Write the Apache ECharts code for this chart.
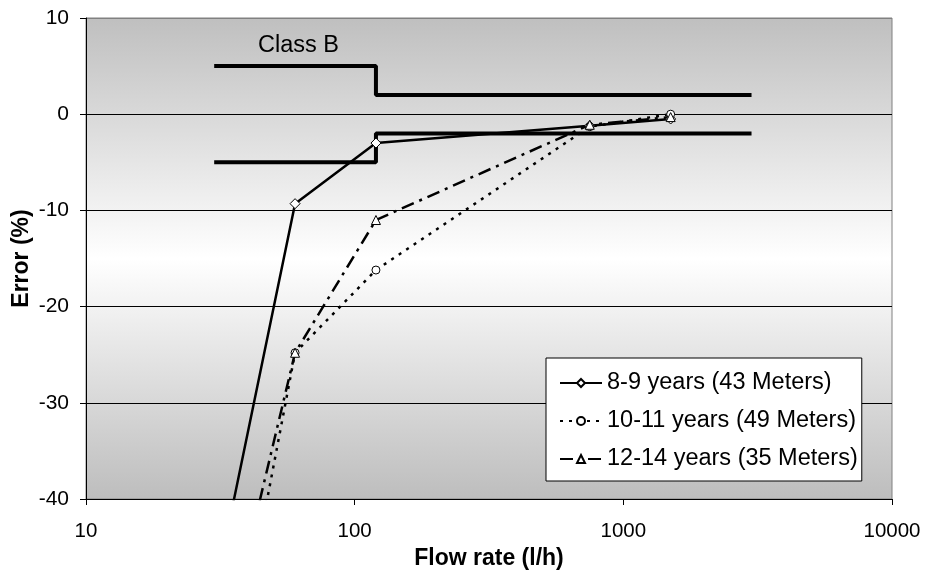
<!DOCTYPE html>
<html>
<head>
<meta charset="utf-8">
<script src="https://cdn.jsdelivr.net/npm/echarts@6/dist/echarts.min.js"></script>
<style>html,body{margin:0;padding:0;background:#fff}#c{width:926px;height:573px}</style>
</head>
<body>
<div id="c"></div>
<script>
// Flow rates (l/h)
var flowRates = [30, 60, 120, 750, 1500];
// Errors (%)
var err89 = [-50, -9.3, -3.0, -1.2, -0.5];
var err1011 = [-69, -24.8, -16.2, -1.3, 0.0];
var err1214 = [-60, -24.8, -11.0, -1.1, -0.3];
var seriesNames = ['8-9 years (43 Meters)', '10-11 years (49 Meters)', '12-14 years (35 Meters)'];
// Class B limits
var limitX = [30, 120, 120, 3000];
var limitUpper = [5, 5, 2, 2];
var limitLower = [-5, -5, -2, -2];
var xTicks = ['10', '100', '1000', '10000'];

function pairs(xs, ys) { return xs.map(function (x, i) { return [x, ys[i]]; }); }

var FONT = 'Liberation Sans, Arial, sans-serif';
var chart = echarts.init(document.getElementById('c'));
chart.setOption({
  animation: false,
  backgroundColor: '#fff',
  textStyle: { fontFamily: FONT },
  title: {
    text: 'Class B', left: 253, top: 29,
    textStyle: { fontFamily: FONT, fontSize: 23.5, fontWeight: 'normal', color: '#000' }
  },
  grid: {
    left: 86, right: 34, top: 18, bottom: 74, show: true,
    containLabel: false, outerBoundsMode: 'none',
    borderColor: '#808080', borderWidth: 1,
    backgroundColor: {
      type: 'linear', x: 0, y: 0, x2: 0, y2: 1,
      colorStops: [
        { offset: 0, color: '#bfbfbf' },
        { offset: 0.5, color: '#ffffff' },
        { offset: 1, color: '#bdbdbd' }
      ]
    }
  },
  legend: {
    data: seriesNames,
    orient: 'vertical', left: 546, top: 358,
    backgroundColor: '#fff', borderColor: '#000', borderWidth: 1,
    padding: [12, 4, 9, 13],
    itemWidth: 42, itemHeight: 10, itemGap: 12,
    textStyle: { fontFamily: FONT, fontSize: 23.5, color: '#000', lineHeight: 26 }
  },
  xAxis: {
    type: 'log', logBase: 10, min: 10, max: 10000,
    name: 'Flow rate (l/h)', nameLocation: 'middle', nameGap: 48,
    nameMoveOverlap: false,
    nameTextStyle: { fontFamily: FONT, fontSize: 23, fontWeight: 'bold', color: '#000' },
    axisLine: { onZero: false, lineStyle: { color: '#000', width: 1 } },
    axisTick: { show: true, length: 6, lineStyle: { color: '#000' } },
    minorTick: { show: false },
    splitLine: { show: false },
    axisLabel: {
      fontFamily: FONT, fontSize: 20.5, color: '#000', margin: 22,
      formatter: function (v) { var s = String(Math.round(v)); return xTicks.indexOf(s) >= 0 ? s : ''; }
    }
  },
  yAxis: {
    type: 'value', min: -40, max: 10, interval: 10,
    name: 'Error (%)', nameLocation: 'middle', nameGap: 53,
    nameMoveOverlap: false,
    nameTextStyle: { fontFamily: FONT, fontSize: 23, fontWeight: 'bold', color: '#000' },
    axisLine: { show: true, onZero: false, lineStyle: { color: '#000', width: 1 } },
    axisTick: { show: true, length: 6, lineStyle: { color: '#000' } },
    splitLine: { show: true, lineStyle: { color: ['#000', '#000', '#000', '#000', '#000', '#808080'], width: 1 } },
    axisLabel: { fontFamily: FONT, fontSize: 21, color: '#000', margin: 17 }
  },
  series: [
    {
      name: 'ClassB upper', type: 'line', data: pairs(limitX, limitUpper),
      symbol: 'none', lineStyle: { color: '#000', width: 4 }, z: 2, silent: true
    },
    {
      name: 'ClassB lower', type: 'line', data: pairs(limitX, limitLower),
      symbol: 'none', lineStyle: { color: '#000', width: 4 }, z: 2, silent: true
    },
    {
      name: seriesNames[0], type: 'line', data: pairs(flowRates, err89),
      symbol: 'diamond', symbolSize: 10, showAllSymbol: true,
      itemStyle: { color: '#fff', borderColor: '#000', borderWidth: 1 },
      lineStyle: { color: '#000', width: 2.5, type: 'solid' }, z: 3
    },
    {
      name: seriesNames[1], type: 'line', data: pairs(flowRates, err1011),
      symbol: 'circle', symbolSize: 8, showAllSymbol: true,
      itemStyle: { color: '#fff', borderColor: '#000', borderWidth: 1 },
      lineStyle: { color: '#000', width: 2.5, type: [3, 6] }, z: 3
    },
    {
      name: seriesNames[2], type: 'line', data: pairs(flowRates, err1214),
      symbol: 'triangle', symbolSize: 9, showAllSymbol: true,
      itemStyle: { color: '#fff', borderColor: '#000', borderWidth: 1 },
      lineStyle: { color: '#000', width: 2.5, type: [13, 6, 3, 6] }, z: 3
    }
  ]
});
</script>
</body>
</html>
